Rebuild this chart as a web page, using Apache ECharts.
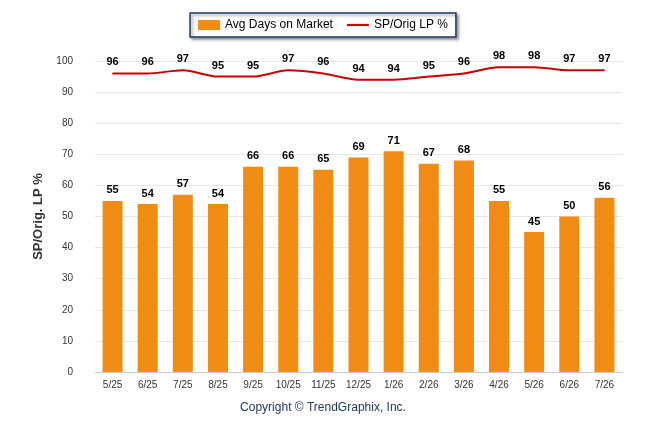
<!DOCTYPE html><html><head><script src="https://cdn.jsdelivr.net/npm/echarts@6/dist/echarts.min.js"></script>
<style>body{margin:0;background:#fff}#c{width:646px;height:434px}</style></head><body><div id="c"></div>
<script>
const categories=['5/25','6/25','7/25','8/25','9/25','10/25','11/25','12/25','1/26','2/26','3/26','4/26','5/26','6/26','7/26'];
const daysOnMarket=[55,54,57,54,66,66,65,69,71,67,68,55,45,50,56];
const spOrigLp=[96,96,97,95,95,97,96,94,94,95,96,98,98,97,97];
const c=echarts.init(document.getElementById('c'));
const f='Arial, Liberation Sans, sans-serif';
c.setOption({
 animation:false,
 grid:{left:95,right:24,top:61,bottom:62},
 legend:{top:13,left:'center',itemGap:14,borderColor:'#1f3864',borderWidth:1.5,borderRadius:0,padding:[6,8],
  shadowColor:'rgba(0,0,0,0.4)',shadowBlur:3,shadowOffsetX:2,shadowOffsetY:2,backgroundColor:'#fff',
  textStyle:{fontFamily:f,fontSize:12,color:'#000'},
  data:[{name:'Avg Days on Market',icon:'rect'},{name:'SP/Orig LP %',icon:'path://M0,0H30V3H0Z'}],itemWidth:22,itemHeight:10},
 xAxis:{type:'category',data:categories,axisTick:{show:false},axisLine:{lineStyle:{color:'#ccc'}},
  axisLabel:{fontFamily:f,fontSize:10,color:'#333',margin:8}},
 yAxis:{type:'value',min:0,max:100,interval:10,name:'SP/Orig. LP %',nameLocation:'middle',nameGap:50,
  nameTextStyle:{fontFamily:f,fontSize:13,fontWeight:'bold',color:'#333'},
  axisLabel:{fontFamily:f,fontSize:10,color:'#333',margin:22},splitLine:{lineStyle:{color:'#e6e6e6'}},axisLine:{show:false}},
 graphic:[{type:'text',left:'center',top:402,style:{text:'Copyright © TrendGraphix, Inc.',font:'12px '+f,fill:'#1f3864'}}],
 series:[
  {name:'Avg Days on Market',type:'bar',data:daysOnMarket,barWidth:20,itemStyle:{color:'#f08c14'},
   label:{show:true,position:'top',fontFamily:f,fontSize:11,fontWeight:'bold',color:'#000'}},
  {name:'SP/Orig LP %',type:'line',smooth:0.3,data:spOrigLp,symbol:'circle',symbolSize:1,showSymbol:true,lineStyle:{color:'#cc0000',width:2},itemStyle:{color:'#cc0000'},
   label:{show:true,position:'top',distance:5,fontFamily:f,fontSize:11,fontWeight:'bold',color:'#000'}}
 ]
});
</script></body></html>
